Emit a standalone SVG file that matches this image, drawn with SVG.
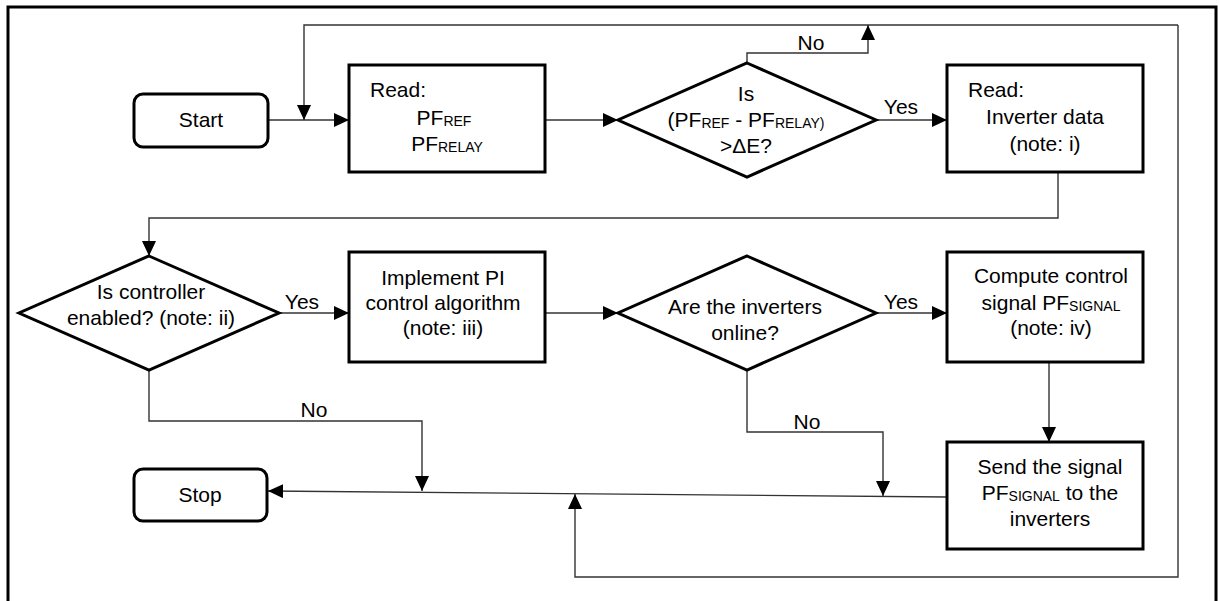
<svg xmlns="http://www.w3.org/2000/svg" width="1219" height="601" viewBox="0 0 1219 601">
  <style>
    text { font-family: "Liberation Sans", Arial, sans-serif; font-size: 21px; fill: #000; }
    .c { text-anchor: middle; }
    .sub { font-size: 14px; }
    .box { fill: #fff; stroke: #000; stroke-width: 3; }
    .link { fill: none; stroke: #333; stroke-width: 1.4; }
    .frame { fill: none; stroke: #000; stroke-width: 3; }
  </style>
  <defs>
    <marker id="arrow" markerUnits="userSpaceOnUse" markerWidth="16" markerHeight="14" refX="15" refY="7" orient="auto">
      <path d="M0,0 L15,7 L0,14 z" fill="#000"/>
    </marker>
  </defs>

  <rect width="1219" height="601" fill="#fff"/>
  <rect class="frame" x="8" y="7" width="1208" height="604"/>

  <!-- connectors and their branch labels -->
  <g id="connectors">
    <path class="link" d="M268,120 H349" marker-end="url(#arrow)"/>
    <path class="link" d="M1178,25 H304 V120" marker-end="url(#arrow)"/>
    <path class="link" d="M545,120 H618" marker-end="url(#arrow)"/>
    <path class="link" d="M747,63 V53 H868 V25" marker-end="url(#arrow)"/>
    <path class="link" d="M876,120 H947" marker-end="url(#arrow)"/>
    <path class="link" d="M1058,172 V218 H149 V256" marker-end="url(#arrow)"/>
    <path class="link" d="M279,313 H349" marker-end="url(#arrow)"/>
    <path class="link" d="M545,313 H618" marker-end="url(#arrow)"/>
    <path class="link" d="M876,313 H947" marker-end="url(#arrow)"/>
    <path class="link" d="M1049,362 V442" marker-end="url(#arrow)"/>
    <path class="link" d="M149,370 V421 H422 V491" marker-end="url(#arrow)"/>
    <path class="link" d="M747,370 V432 H883 V496" marker-end="url(#arrow)"/>
    <path class="link" d="M947,497 L268,491" marker-end="url(#arrow)"/>
    <path class="link" d="M1178,25 V577 H575 V494" marker-end="url(#arrow)"/>
    <text class="c" x="811" y="50">No</text>
    <text class="c" x="901" y="114">Yes</text>
    <text class="c" x="302" y="309">Yes</text>
    <text class="c" x="901" y="309">Yes</text>
    <text class="c" x="314" y="417">No</text>
    <text class="c" x="807" y="429">No</text>
  </g>

  <g id="start">
    <rect class="box" x="134" y="94" width="134" height="53" rx="9"/>
    <text class="c" x="201" y="127">Start</text>
  </g>

  <g id="read-pf">
    <rect class="box" x="349" y="65" width="196" height="107"/>
    <text x="370" y="97">Read:</text>
    <text class="c" x="444" y="125">PF<tspan class="sub" dy="1">REF</tspan></text>
    <text class="c" x="447" y="151">PF<tspan class="sub" dy="1">RELAY</tspan></text>
  </g>

  <g id="check-error">
    <polygon class="box" points="747,63 876,120 747,177 618,120"/>
    <text class="c" x="746" y="101">Is</text>
    <text class="c" x="746" y="127">(PF<tspan class="sub" dy="1">REF</tspan><tspan dy="-1"> - PF</tspan><tspan class="sub" dy="1">RELAY)</tspan></text>
    <text class="c" x="746" y="153">&gt;ΔE?</text>
  </g>

  <g id="read-inverter">
    <rect class="box" x="947" y="65" width="196" height="107"/>
    <text x="968" y="97">Read:</text>
    <text class="c" x="1045" y="124">Inverter data</text>
    <text class="c" x="1045" y="151">(note: i)</text>
  </g>

  <g id="controller-enabled">
    <polygon class="box" points="149,256 279,313 149,370 19,313"/>
    <text class="c" x="151" y="299">Is controller</text>
    <text class="c" x="151" y="325">enabled? (note: ii)</text>
  </g>

  <g id="pi-control">
    <rect class="box" x="349" y="252" width="196" height="110"/>
    <text class="c" x="443" y="285">Implement PI</text>
    <text class="c" x="443" y="310">control algorithm</text>
    <text class="c" x="443" y="335">(note: iii)</text>
  </g>

  <g id="inverters-online">
    <polygon class="box" points="747,256 876,313 747,370 618,313"/>
    <text class="c" x="745" y="314">Are the inverters</text>
    <text class="c" x="745" y="340">online?</text>
  </g>

  <g id="compute-signal">
    <rect class="box" x="947" y="252" width="196" height="110"/>
    <text class="c" x="1051" y="283">Compute control</text>
    <text class="c" x="1051" y="310">signal PF<tspan class="sub" dy="1">SIGNAL</tspan></text>
    <text class="c" x="1051" y="335">(note: iv)</text>
  </g>

  <g id="send-signal">
    <rect class="box" x="947" y="442" width="196" height="107"/>
    <text class="c" x="1050" y="474">Send the signal</text>
    <text class="c" x="1050" y="500">PF<tspan class="sub" dy="1">SIGNAL</tspan><tspan dy="-1"> to the</tspan></text>
    <text class="c" x="1050" y="526">inverters</text>
  </g>

  <g id="stop">
    <rect class="box" x="134" y="469" width="133" height="52" rx="9"/>
    <text class="c" x="200" y="502">Stop</text>
  </g>
</svg>
